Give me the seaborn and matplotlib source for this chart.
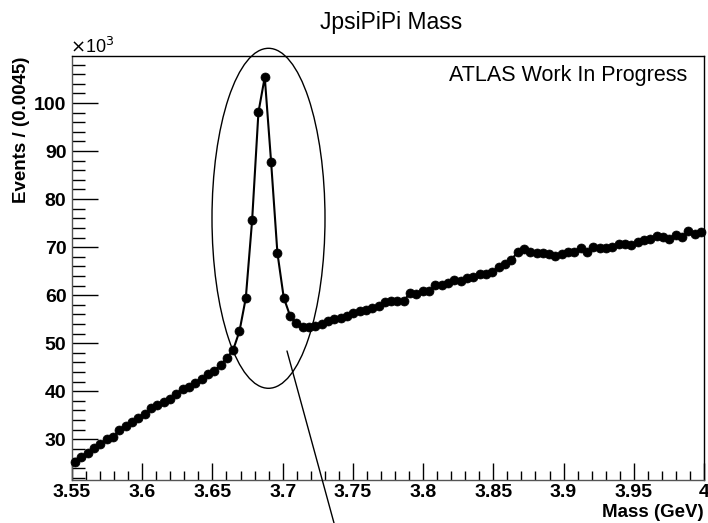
import numpy as np
import pandas as pd
import matplotlib
matplotlib.use("Agg")
import matplotlib.pyplot as plt
from matplotlib.patches import Ellipse
from matplotlib.lines import Line2D
from matplotlib.ticker import MultipleLocator
import seaborn as sns

# ---- data ----
bin_low = 3.55
bin_width = 0.0045
events_k = [
    25.3, 26.2, 27.2, 28.1, 28.9, 30.0, 30.4, 31.9, 32.8, 33.5,
    34.5, 35.2, 36.5, 37.2, 37.7, 38.3, 39.4, 40.5, 40.9, 41.6,
    42.5, 43.5, 44.2, 45.5, 46.9, 48.6, 52.5, 59.4, 75.6, 98.1,
    105.4, 87.8, 68.8, 59.5, 55.7, 54.1, 53.4, 53.4, 53.6, 54.0,
    54.6, 55.0, 55.2, 55.7, 56.3, 56.6, 56.9, 57.3, 57.8, 58.5,
    58.7, 58.7, 58.8, 60.5, 60.3, 60.8, 60.8, 62.2, 62.2, 62.6,
    63.1, 63.0, 63.5, 63.7, 64.4, 64.5, 64.8, 65.9, 66.5, 67.4,
    68.9, 69.6, 69.0, 68.7, 68.8, 68.5, 68.2, 68.5, 68.9, 68.9,
    69.8, 69.0, 70.1, 69.9, 69.9, 70.1, 70.6, 70.6, 70.4, 71.1,
    71.4, 71.7, 72.3, 72.1, 71.7, 72.5, 72.2, 73.4, 72.7, 73.2,
]
mass = bin_low + (np.arange(len(events_k)) + 0.5) * bin_width
x_ticks = [3.55, 3.6, 3.65, 3.7, 3.75, 3.8, 3.85, 3.9, 3.95, 4.0]
x_tick_labels = ["3.55", "3.6", "3.65", "3.7", "3.75", "3.8", "3.85", "3.9", "3.95", "4"]
y_ticks = [30, 40, 50, 60, 70, 80, 90, 100]

df = pd.DataFrame({"mass": mass, "events": events_k})

sns.set_style("white")
plt.rcParams["font.family"] = ["Liberation Sans", "DejaVu Sans"]
plt.rcParams["text.color"] = "black"
plt.rcParams["xtick.color"] = "black"
plt.rcParams["ytick.color"] = "black"

W, H = 708, 523
fig = plt.figure(figsize=(W / 100, H / 100), dpi=100)
ax = fig.add_axes([72 / W, 1 - 480 / H, 632 / W, 424 / H])

sns.lineplot(data=df, x="mass", y="events", ax=ax, color="black", lw=1.5, zorder=3)
sns.scatterplot(data=df, x="mass", y="events", ax=ax, color="black", s=42,
                edgecolor="black", linewidth=0.5, zorder=4, clip_on=False)

ax.set_xlim(3.55, 4.0)
ax.set_ylim(21.5, 109.8)
ax.set_xticks(x_ticks)
ax.set_xticklabels(x_tick_labels)
ax.set_yticks(y_ticks)
ax.xaxis.set_minor_locator(MultipleLocator(0.01))
ax.yaxis.set_minor_locator(MultipleLocator(2))
ax.tick_params(axis="x", which="major", direction="in", length=12.5, width=1,
               bottom=True, top=False, labelsize=14, pad=3, colors="black")
ax.tick_params(axis="x", which="minor", direction="in", length=6.3, width=1,
               bottom=True, top=False, colors="black")
ax.tick_params(axis="y", which="major", direction="in", length=18.5, width=1,
               left=True, right=False, labelsize=14, pad=4, colors="black")
ax.tick_params(axis="y", which="minor", direction="in", length=9.5, width=1,
               left=True, right=False, colors="black")
for lab in ax.get_xticklabels() + ax.get_yticklabels():
    lab.set_fontweight("bold")
for sp in ax.spines.values():
    sp.set_visible(True)
    sp.set_color("black")
    sp.set_linewidth(1.0)
ax.spines["left"].set_color("#555555")
ax.spines["bottom"].set_color("#555555")
ax.set_xlabel("")
ax.set_ylabel("")

def fx(px):
    return px / W

def fy(py):
    return 1 - py / H

fig.text(fx(391), fy(22), "JpsiPiPi Mass", ha="center", va="center", fontsize=16.5)
fig.text(fx(687), fy(76), "ATLAS Work In Progress", ha="right", va="center", fontsize=15.5)
fig.text(fx(70), fy(47), r"$\times$10$^{3}$", ha="left", va="center", fontsize=13)
fig.text(fx(704), fy(521), "Mass (GeV)", ha="right", va="bottom", fontsize=13.5,
         fontweight="bold")
fig.text(fx(22), fy(57), "Events / (0.0045)", ha="center", va="top", rotation=90,
         fontsize=13.5, fontweight="bold")

# annotation ellipse and pointer line
ell = Ellipse((fx(268.5), fy(218.3)), 113 / W, 340 / H, transform=fig.transFigure,
              fill=False, edgecolor="black", linewidth=1.0, clip_on=False, zorder=5)
fig.add_artist(ell)
fig.add_artist(Line2D([fx(287), fx(334)], [fy(351), fy(523)], transform=fig.transFigure,
                      color="black", linewidth=1.0))

fig.savefig("out.png", dpi=100)
